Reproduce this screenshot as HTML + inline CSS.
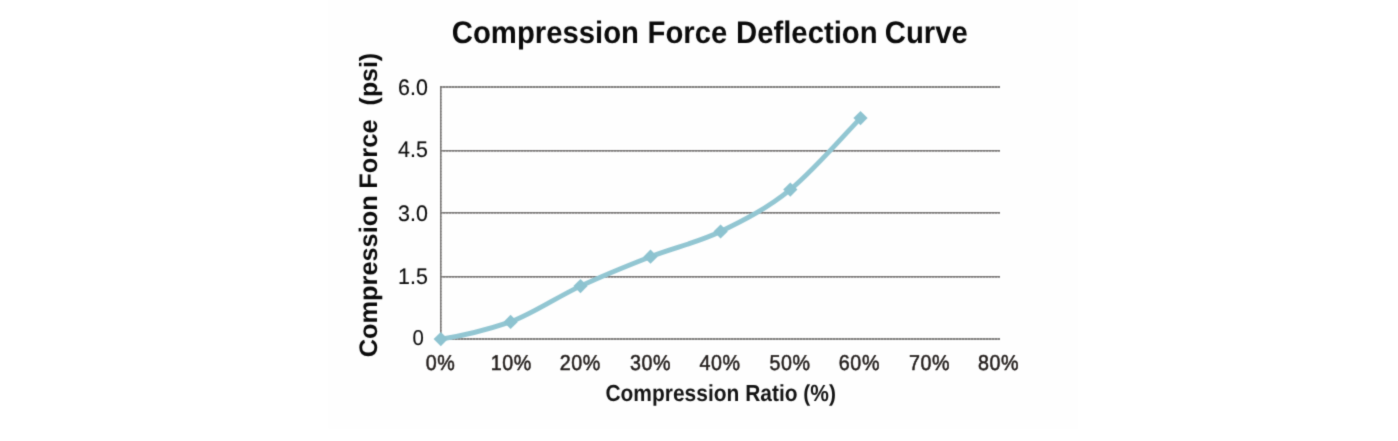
<!DOCTYPE html>
<html lang="en"><head><meta charset="utf-8"><title>Compression Force Deflection Curve</title>
<style>
html,body{margin:0;padding:0;background:#fff;}
body{width:1398px;height:441px;overflow:hidden;font-family:"Liberation Sans",sans-serif;}
svg{display:block;}
text{font-family:"Liberation Sans",sans-serif;text-rendering:geometricPrecision;}
.t{font-weight:bold;font-size:29.3px;fill:#0b0b0b;}
.yl{font-size:21.4px;fill:#0c0c0c;text-anchor:end;stroke:#0c0c0c;stroke-width:0.15px;}
.xl{font-size:20.4px;fill:#221d1b;text-anchor:middle;stroke:#221d1b;stroke-width:0.5px;}
.xt{font-weight:bold;font-size:21px;fill:#141414;}
.yt{font-weight:bold;font-size:25.22px;fill:#0b0b0b;}
.g{stroke:#838180;stroke-width:1.5;fill:none;}
.gd{stroke:#767472;stroke-width:1.5;fill:none;stroke-dasharray:2 1;}
</style></head><body>
<svg width="1398" height="441" viewBox="0 0 1398 441">
<rect width="1398" height="441" fill="#ffffff"/>
<rect x="328.5" y="0" width="749.5" height="428.5" fill="#fefefe"/>
<g filter="url(#b)">
<line class="g" x1="440.1" y1="87.10" x2="1000" y2="87.10"/>
<line class="gd" x1="440.1" y1="87.10" x2="1000" y2="87.10"/>
<line class="g" x1="440.1" y1="150.80" x2="1000" y2="150.80"/>
<line class="gd" x1="440.1" y1="150.80" x2="1000" y2="150.80"/>
<line class="g" x1="440.1" y1="212.80" x2="1000" y2="212.80"/>
<line class="gd" x1="440.1" y1="212.80" x2="1000" y2="212.80"/>
<line class="g" x1="440.1" y1="276.70" x2="1000" y2="276.70"/>
<line class="gd" x1="440.1" y1="276.70" x2="1000" y2="276.70"/>
<line class="g" x1="440.1" y1="338.95" x2="1000" y2="338.95"/>
<line class="gd" x1="440.1" y1="338.95" x2="1000" y2="338.95"/>
<line class="g" x1="440.75" y1="86.45" x2="440.75" y2="339.75"/>
<line class="gd" x1="440.75" y1="86.45" x2="440.75" y2="339.75"/>
<path d="M440.8 339.1 C462.0 336.1 489.6 328.9 510.6 321.9 C533.9 313.1 557.2 296.9 580.5 286.1 C603.8 275.2 627.1 265.8 650.5 256.7 C673.8 247.6 697.3 242.7 720.6 231.5 C744.0 220.3 767.0 208.5 790.3 189.6 C813.6 170.7 848.8 130.0 860.5 118.1" fill="none" stroke="#92c6d2" stroke-width="4.8" stroke-linecap="round" stroke-linejoin="round"/>
<path d="M440.8 331.9L447.9 339.1L440.8 346.2L433.6 339.1Z" fill="#8dc3d0"/>
<path d="M510.6 314.8L517.8 321.9L510.6 329.1L503.5 321.9Z" fill="#8dc3d0"/>
<path d="M580.5 278.9L587.6 286.1L580.5 293.2L573.4 286.1Z" fill="#8dc3d0"/>
<path d="M650.5 249.6L657.6 256.7L650.5 263.8L643.4 256.7Z" fill="#8dc3d0"/>
<path d="M720.6 224.4L727.8 231.5L720.6 238.6L713.5 231.5Z" fill="#8dc3d0"/>
<path d="M790.3 182.5L797.4 189.6L790.3 196.7L783.2 189.6Z" fill="#8dc3d0"/>
<path d="M860.5 111.0L867.6 118.1L860.5 125.2L853.4 118.1Z" fill="#8dc3d0"/>
<text class="t" transform="translate(0 43.1) scale(1 1.065)"><tspan x="451.8">Compression</tspan> <tspan x="647.5">Force</tspan> <tspan x="736">Deflection</tspan> <tspan x="884.8">Curve</tspan></text>
<text class="yl" transform="translate(427.8 94.8) scale(1 1.05)">6.0</text>
<text class="yl" transform="translate(427.8 156.7) scale(1 1.05)">4.5</text>
<text class="yl" transform="translate(427.8 220.7) scale(1 1.05)">3.0</text>
<text class="yl" transform="translate(427.8 283.7) scale(1 1.05)">1.5</text>
<text class="yl" transform="translate(423.9 345.3) scale(0.95 1.0)">0</text>
<text class="xl" transform="translate(440.5 370.4) scale(0.965 1.055)" letter-spacing="0.6">0%</text>
<text class="xl" transform="translate(511.2 370.4) scale(0.965 1.055)" letter-spacing="0.6">10%</text>
<text class="xl" transform="translate(580.2 370.4) scale(0.965 1.055)" letter-spacing="0.6">20%</text>
<text class="xl" transform="translate(650.5 370.4) scale(0.965 1.055)" letter-spacing="0.6">30%</text>
<text class="xl" transform="translate(720.0 370.4) scale(0.965 1.055)" letter-spacing="0.6">40%</text>
<text class="xl" transform="translate(790.1 370.4) scale(0.965 1.055)" letter-spacing="0.6">50%</text>
<text class="xl" transform="translate(859.4 370.4) scale(0.965 1.055)" letter-spacing="0.6">60%</text>
<text class="xl" transform="translate(929.5 370.4) scale(0.965 1.055)" letter-spacing="0.6">70%</text>
<text class="xl" transform="translate(998.6 370.4) scale(0.965 1.055)" letter-spacing="0.6">80%</text>
<text class="xt" transform="translate(605.4 401.4) scale(0.998 1.105)">Compression Ratio (%)</text>
<text class="yt" transform="translate(377.3 357.3) rotate(-90)"><tspan x="0" font-size="25.37">Compression</tspan> <tspan x="168.6" font-size="25.45">Force</tspan> <tspan x="251.9" font-size="24.9">(psi)</tspan></text>
</g>
<defs><filter id="b" x="0" y="0" width="1398" height="441" filterUnits="userSpaceOnUse" color-interpolation-filters="sRGB"><feConvolveMatrix order="3" kernelMatrix="0.0192 0.1001 0.0192 0.1001 0.5228 0.1001 0.0192 0.1001 0.0192" divisor="1" edgeMode="duplicate" preserveAlpha="false"/></filter></defs>
</svg>
</body></html>
